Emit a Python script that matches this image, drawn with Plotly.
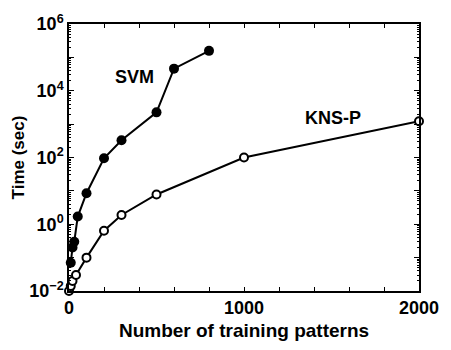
import plotly.graph_objects as go

svm_x = [10, 20, 30, 50, 100, 200, 300, 500, 600, 800]
svm_y = [0.07, 0.2, 0.3, 1.7, 8.5, 95, 330, 2250, 46000, 157000]

kns_x = [0, 10, 20, 40, 100, 200, 300, 500, 1000, 2000]
kns_y = [0.01, 0.014, 0.02, 0.03, 0.1, 0.64, 1.9, 7.8, 100, 1220]

y_tick_vals = [1e-2, 1e-1, 1e0, 1e1, 1e2, 1e3, 1e4, 1e5, 1e6]
y_tick_text = ["10<sup>−2</sup>", "", "10<sup>0</sup>", "", "10<sup>2</sup>", "",
               "10<sup>4</sup>", "", "10<sup>6</sup>"]
x_tick_vals = [0, 200, 400, 600, 800, 1000, 1200, 1400, 1600, 1800, 2000]
x_tick_text = ["0", "", "", "", "", "1000", "", "", "", "", "2000"]

minor_vals = [m * 10 ** e for e in range(-2, 6) for m in range(2, 10)]

FONT = "Liberation Sans"

fig = go.Figure()
fig.add_trace(go.Scatter(
    x=kns_x, y=kns_y, mode="lines+markers",
    line=dict(color="black", width=2),
    marker=dict(symbol="circle", size=8, color="white",
                line=dict(color="black", width=2)),
    cliponaxis=False, showlegend=False))
fig.add_trace(go.Scatter(
    x=svm_x, y=svm_y, mode="lines+markers",
    line=dict(color="black", width=2),
    marker=dict(symbol="circle", size=10, color="black"),
    cliponaxis=False, showlegend=False))

# annotation y on a log axis is given in log10 units
fig.add_annotation(x=375, y=4.41, text="SVM", showarrow=False,
                   font=dict(family=FONT, size=18, color="black", weight="bold"))
fig.add_annotation(x=1507, y=3.19, text="KNS-P", showarrow=False,
                   font=dict(family=FONT, size=18, color="black", weight="bold"))

fig.update_layout(
    width=451, height=350,
    margin=dict(l=69, r=25, t=15, b=54),
    plot_bgcolor="white", paper_bgcolor="white",
    font=dict(family=FONT, size=16, color="black", weight="bold"),
)
fig.update_xaxes(
    range=[0, 2000], tickvals=x_tick_vals, ticktext=x_tick_text,
    ticks="inside", ticklen=4, tickwidth=1, tickcolor="black",
    showline=True, linecolor="black", linewidth=1.5, mirror="ticks",
    showgrid=False, zeroline=False,
    title=dict(text="Number of training patterns", standoff=6,
               font=dict(family=FONT, size=19, weight="bold")),
    tickfont=dict(family=FONT, size=18, weight="bold"),
)
fig.update_yaxes(
    type="log", range=[-2, 6], tickvals=y_tick_vals, ticktext=y_tick_text,
    ticks="inside", ticklen=5, tickwidth=1, tickcolor="black",
    showline=True, linecolor="black", linewidth=1.5, mirror="ticks",
    showgrid=False, zeroline=False,
    minor=dict(tickvals=minor_vals, ticks="inside", ticklen=2,
               tickcolor="black", showgrid=False),
    title=dict(text="Time (sec)", standoff=0,
               font=dict(family=FONT, size=17, weight="bold")),
    tickfont=dict(family=FONT, size=18, weight="bold"),
)

fig.write_html("out.html")
